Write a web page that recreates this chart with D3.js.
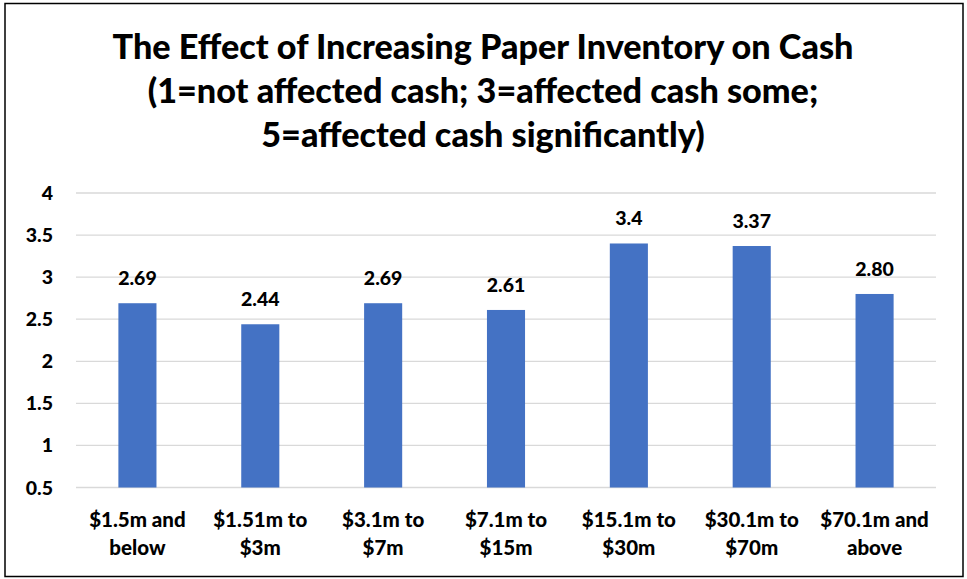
<!DOCTYPE html>
<html><head><meta charset="utf-8">
<script src="https://cdn.jsdelivr.net/npm/d3@7"></script>
<style>body{margin:0;background:#fff}svg{display:block}text{font-family:Lato,"Open Sans",sans-serif;font-weight:900;fill:#000}</style>
</head><body>
<script>
const categories = [["$1.5m and","below"],["$1.51m to","$3m"],["$3.1m to","$7m"],["$7.1m to","$15m"],["$15.1m to","$30m"],["$30.1m to","$70m"],["$70.1m and","above"]];
const values = [2.69, 2.44, 2.69, 2.61, 3.4, 3.37, 2.80];
const valueLabels = ["2.69","2.44","2.69","2.61","3.4","3.37","2.80"];
const yTicks = [0.5,1,1.5,2,2.5,3,3.5,4];
const titleLines = ["The Effect of Increasing Paper Inventory on Cash","(1=not affected cash; 3=affected cash some;","5=affected cash significantly)"];

const W=967,H=579;
const svg=d3.select("body").append("svg").attr("width",W).attr("height",H);
svg.append("rect").attr("x",5).attr("y",3.5).attr("width",958).attr("height",573).attr("fill","#fff").attr("stroke","#000").attr("stroke-width",1.5);

const x=d3.scaleBand().domain(d3.range(categories.length)).range([76,936]).paddingInner(0.69).paddingOuter(0.345);
const y=d3.scaleLinear().domain([0.5,4]).range([487.5,193]);

svg.append("g").selectAll("line").data(yTicks).join("line")
 .attr("x1",76).attr("x2",936).attr("y1",d=>y(d)).attr("y2",d=>y(d))
 .attr("stroke","#d9d9d9").attr("stroke-width",1.3);

svg.append("g").selectAll("text").data(yTicks).join("text")
 .attr("x",53).attr("y",d=>y(d)+7).attr("text-anchor","end").attr("font-size",19.5)
 .text(d=>d);

svg.append("g").selectAll("rect").data(values).join("rect")
 .attr("x",(d,i)=>x(i)).attr("width",x.bandwidth())
 .attr("y",d=>y(d)).attr("height",d=>y(0.5)-y(d)).attr("fill","#4472C4");

svg.append("g").selectAll("text").data(values).join("text")
 .attr("x",(d,i)=>x(i)+x.bandwidth()/2).attr("y",d=>y(d)-18).attr("text-anchor","middle").attr("font-size",19.5)
 .text((d,i)=>valueLabels[i]);

const xl=svg.append("g").selectAll("text").data(categories).join("text")
 .attr("text-anchor","middle").attr("font-size",20.5);
xl.each(function(d,i){
  const t=d3.select(this);
  d.forEach((ln,j)=>t.append("tspan").attr("x",x(i)+x.bandwidth()/2).attr("y",527+j*28).text(ln));
});

svg.append("g").selectAll("text").data(titleLines).join("text")
 .attr("x",483).attr("y",(d,i)=>59+i*44).attr("text-anchor","middle").attr("font-size",34.2)
 .text(d=>d);
</script>
</body></html>
